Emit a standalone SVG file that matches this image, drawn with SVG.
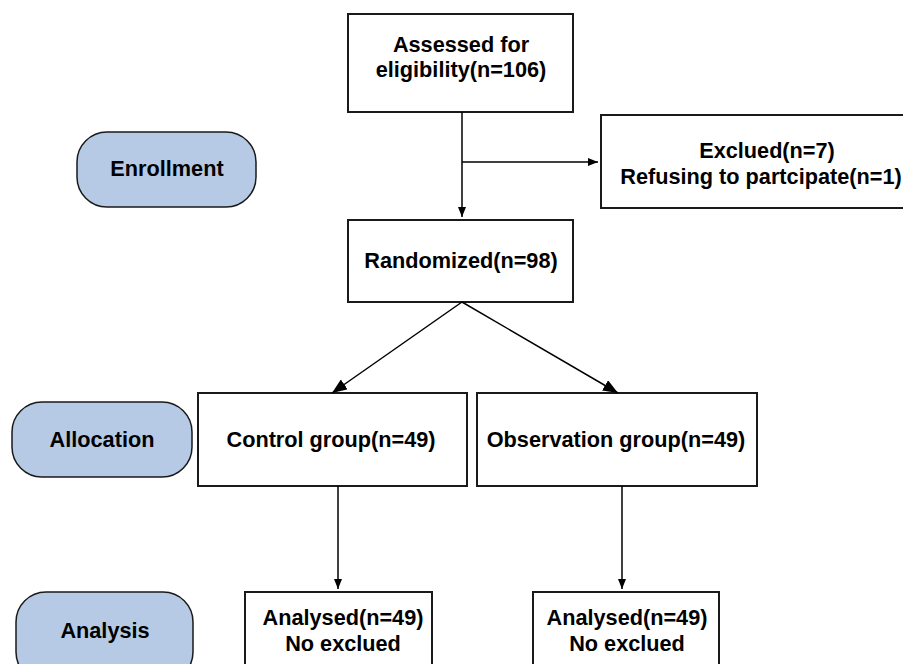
<svg xmlns="http://www.w3.org/2000/svg" width="903" height="664" viewBox="0 0 903 664">
<style>
.box{fill:#fff;stroke:#1a1a1a;stroke-width:2}
.pill{fill:#b6cae6;stroke:#1a1a1a;stroke-width:1.5}
text{font-family:"Liberation Sans",Arial,sans-serif;font-weight:bold;font-size:21.7px;fill:#000;text-anchor:middle}
.ln{stroke:#000;stroke-width:1.5;fill:none}
</style>
<defs>
<marker id="ah" markerWidth="10" markerHeight="8" refX="10" refY="4" orient="auto" markerUnits="userSpaceOnUse">
<path d="M0,0 L10,4 L0,8 Z" fill="#000"/>
</marker>
<marker id="ah2" markerWidth="15" markerHeight="12" refX="15" refY="6" orient="auto" markerUnits="userSpaceOnUse">
<path d="M0,0 L15,6 L0,12 Z" fill="#000"/>
</marker>
</defs>
<g id="enrollment"><rect class="pill" x="77" y="132" width="179" height="75" rx="30"/><text x="167" y="176">Enrollment</text></g>
<g id="allocation"><rect class="pill" x="12" y="402" width="180" height="75" rx="30"/><text x="102" y="447">Allocation</text></g>
<g id="analysis"><rect class="pill" x="16" y="592" width="177" height="90" rx="30"/><text x="105" y="638">Analysis</text></g>
<g id="assessed"><rect class="box" x="348" y="14" width="225" height="98"/><text x="461" y="52">Assessed for</text><text x="461" y="77">eligibility(n=106)</text></g>
<g id="excluded"><rect class="box" x="601" y="115" width="310" height="93"/><text x="767" y="158">Exclued(n=7)</text><text x="761" y="184">Refusing to partcipate(n=1)</text></g>
<g id="randomized"><rect class="box" x="348" y="220" width="225" height="82"/><text x="461" y="268">Randomized(n=98)</text></g>
<g id="control"><rect class="box" x="198" y="393" width="269" height="93"/><text x="331" y="447">Control group(n=49)</text></g>
<g id="observation"><rect class="box" x="477" y="393" width="280" height="93"/><text x="616" y="447">Observation group(n=49)</text></g>
<g id="analysed-control"><rect class="box" x="245" y="592" width="187" height="90"/><text x="343" y="625">Analysed(n=49)</text><text x="343" y="651">No exclued</text></g>
<g id="analysed-observation"><rect class="box" x="533" y="592" width="186" height="90"/><text x="627" y="625">Analysed(n=49)</text><text x="627" y="651">No exclued</text></g>
<g id="connectors">
<line class="ln" x1="462" y1="112" x2="462" y2="217" marker-end="url(#ah)"/>
<line class="ln" x1="462" y1="162" x2="598" y2="162" marker-end="url(#ah)"/>
<line class="ln" x1="462" y1="302" x2="332" y2="393" marker-end="url(#ah2)"/>
<line class="ln" x1="462" y1="302" x2="618" y2="393" marker-end="url(#ah2)"/>
<line class="ln" x1="338" y1="486" x2="338" y2="589" marker-end="url(#ah)"/>
<line class="ln" x1="622" y1="486" x2="622" y2="589" marker-end="url(#ah)"/>
</g>
</svg>
